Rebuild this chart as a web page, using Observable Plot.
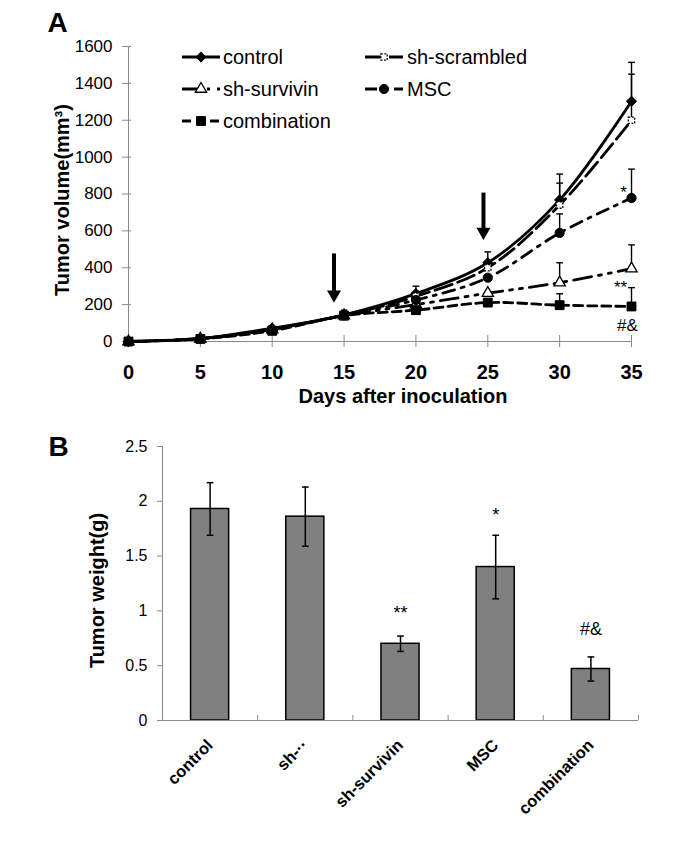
<!DOCTYPE html>
<html><head><meta charset="utf-8">
<script src="https://cdn.jsdelivr.net/npm/d3@7"></script>
<script src="https://cdn.jsdelivr.net/npm/@observablehq/plot@0.6"></script>
<style>
body{margin:0;background:#fff;}
#wrap{position:relative;width:685px;height:843px;overflow:hidden;font-family:"Liberation Sans",Arial,sans-serif;}
#wrap svg{position:absolute;left:0;overflow:visible;}
.bold-ticks g[aria-label="x-axis tick label"] text{font-weight:bold;}
</style></head><body><div id="wrap"></div>
<script>
// ---------- Panel A data ----------
const days = [0, 5, 10, 15, 20, 25, 30, 35];
const seriesNames = ["control", "sh-scrambled", "sh-survivin", "MSC", "combination"];
const volControl     = [0, 17, 72, 145, 260, 427, 768, 1303];
const volScrambled   = [0, 16, 68, 143, 245, 400, 740, 1200];
const volSurvivin    = [0, 15, 65, 140, 200, 262, 319, 395];
const volMSC         = [0, 16, 66, 142, 225, 346, 589, 778];
const volCombination = [0, 14, 58, 140, 170, 211, 197, 190];
const sdControl      = [null, null, null, 25, 40, 59, 140, 211];
const sdScrambled    = [null, null, null, null, null, null, 119, 250];
const sdSurvivin     = [null, null, null, null, null, null, 108, 129];
const sdMSC          = [null, null, null, null, null, null, 103, 157];
const sdCombination  = [null, null, null, null, null, null, 62, 102];
const volTicks = [0, 200, 400, 600, 800, 1000, 1200, 1400, 1600];
const arrowDays = [14.3, 24.7];
const arrowTop  = [475, 805];
const arrowTip  = [211, 551];
const volSigSeries = ["MSC", "sh-survivin", "combination"];
const volSigText   = ["*", "**", "#&"];

// ---------- Panel B data ----------
const groups = ["control", "sh-··", "sh-survivin", "MSC", "combination"];
const weights = [1.93, 1.86, 0.70, 1.40, 0.47];
const weightSD = [0.24, 0.27, 0.07, 0.29, 0.11];
const weightSig = ["", "", "**", "*", "#&"];
const weightTicks = [0, 0.5, 1, 1.5, 2, 2.5];

// ---------- styles ----------
const FONT = "Liberation Sans, Arial, sans-serif";
const AXIS = "#8a8a8a";
const styles = {
  "control":      {dash: null,               symbol: "diamond2", fill: "black", r: 4.6},
  "sh-scrambled": {dash: "18,6",             symbol: "square",   fill: "white", r: 3.6, symDash: "2,1.5"},
  "sh-survivin":  {dash: "18,7,3,7,3,7",     symbol: "triangle", fill: "white", r: 4.2},
  "MSC":          {dash: "12,7,3,7",         symbol: "circle",   fill: "black", r: 4.6},
  "combination":  {dash: "9,5",              symbol: "square",   fill: "black", r: 5}
};
const sigStyleA = {"*": {dx: -8, dy: 0}, "**": {dx: -11, dy: 24}, "#&": {dx: -4, dy: 25}};
const sigDyB = {"**": -17, "*": -14, "#&": -22};
const capSym = {draw(ctx, size) { const w = Math.sqrt(size); ctx.moveTo(-w / 2, 0); ctx.lineTo(w / 2, 0); }};

const vols = {"control": volControl, "sh-scrambled": volScrambled, "sh-survivin": volSurvivin, "MSC": volMSC, "combination": volCombination};
const sds  = {"control": sdControl, "sh-scrambled": sdScrambled, "sh-survivin": sdSurvivin, "MSC": sdMSC, "combination": sdCombination};
const rows = seriesNames.flatMap(s => days.map((d, i) => ({series: s, day: d, vol: vols[s][i], sd: sds[s][i]})));
const errRows = rows.filter(r => r.sd != null);
const arrows = arrowDays.map((d, i) => ({day: d, top: arrowTop[i], tip: arrowTip[i]}));

const wrap = document.getElementById("wrap");

// ---------- Panel A ----------
const marksA = [
  Plot.ruleX([0], {stroke: AXIS}),
  Plot.ruleY([0], {stroke: AXIS}),
  Plot.axisY({ticks: volTicks, tickSize: 9, dx: 3, stroke: AXIS, tickFormat: () => "", label: null}),
  Plot.axisY({ticks: volTicks, tickSize: 0, tickPadding: 16, fontSize: 17, tickFormat: d => String(d), label: null}),
  Plot.axisX({ticks: days, tickSize: 12, dy: -6, stroke: AXIS, tickFormat: () => "", label: null}),
  Plot.axisX({ticks: days, tickSize: 0, tickPadding: 23, fontSize: 20, fontWeight: "bold", tickFormat: d => String(d), label: null}),
  Plot.text(["Days after inoculation"], {frameAnchor: "bottom", dx: 23, dy: 55, fontSize: 20, fontWeight: "bold", textAnchor: "middle", lineAnchor: "middle"}),
  Plot.text(["Tumor volume(mm³)"], {frameAnchor: "left", rotate: -90, dx: -66, dy: 6, fontSize: 20, fontWeight: "bold", textAnchor: "middle", lineAnchor: "middle"}),
  Plot.text(["A"], {frameAnchor: "top-left", dx: -81, dy: -23, textAnchor: "start", lineAnchor: "middle", fontSize: 28, fontWeight: "bold"})
];
for (const s of seriesNames) {
  marksA.push(Plot.line(rows.filter(r => r.series === s), {
    x: "day", y: "vol", stroke: "black", strokeWidth: 2.8, curve: "catmull-rom",
    strokeDasharray: styles[s].dash || undefined
  }));
}
marksA.push(
  Plot.link(errRows, {x1: "day", x2: "day", y1: "vol", y2: d => d.vol + d.sd, stroke: "black", strokeWidth: 1.4}),
  Plot.dot(errRows, {x: "day", y: d => d.vol + d.sd, symbol: capSym, r: 3.8, fill: "none", stroke: "black", strokeWidth: 1.4})
);
for (const s of seriesNames) {
  const st = styles[s];
  marksA.push(Plot.dot(rows.filter(r => r.series === s), {
    x: "day", y: "vol", symbol: st.symbol, r: st.r, fill: st.fill, stroke: "black",
    strokeWidth: st.fill === "white" ? 1.3 : 1, strokeDasharray: st.symDash
  }));
}
marksA.push(
  Plot.ruleX(arrows, {x: "day", y1: "top", y2: "tip", insetBottom: 9, stroke: "black", strokeWidth: 4}),
  Plot.dot(arrows, {x: "day", y: "tip", symbol: "triangle", rotate: 180, r: 5.2, fill: "black", dy: -8})
);
volSigSeries.forEach((s, k) => {
  const r = rows.find(d => d.series === s && d.day === 35);
  const st = sigStyleA[volSigText[k]];
  marksA.push(Plot.text([r], {x: "day", y: "vol", text: () => volSigText[k], dx: st.dx, dy: st.dy, lineAnchor: "bottom", fontSize: 17}));
});

const plotA = Plot.plot({
  width: 685, height: 420,
  marginLeft: 128, marginRight: 54, marginTop: 46, marginBottom: 79,
  x: {domain: [0, 35], axis: null},
  y: {domain: [0, 1600], axis: null},
  style: {fontFamily: FONT, color: "black", background: "white", overflow: "visible"},
  marks: marksA
});
plotA.style.top = "0px";
wrap.appendChild(plotA);

// ---------- Legend for panel A ----------
const legendPos = {
  "control":      {x1: 182, x2: 220, tx: 223, y: 57},
  "sh-scrambled": {x1: 365, x2: 403, tx: 407, y: 57},
  "sh-survivin":  {x1: 182, x2: 220, tx: 223, y: 89},
  "MSC":          {x1: 365, x2: 403, tx: 407, y: 89},
  "combination":  {x1: 182, x2: 220, tx: 223, y: 121}
};
const symMap = {diamond2: d3.symbolDiamond2, square: d3.symbolSquare, triangle: d3.symbolTriangle, circle: d3.symbolCircle};
const leg = d3.select(wrap).append("svg").attr("width", 685).attr("height", 140).style("top", "0px")
  .attr("font-family", FONT);
for (const s of seriesNames) {
  const p = legendPos[s], st = styles[s];
  const g = leg.append("g");
  g.append("line").attr("x1", p.x1).attr("x2", p.x2).attr("y1", p.y).attr("y2", p.y)
    .attr("stroke", "black").attr("stroke-width", 2.8).attr("stroke-dasharray", st.dash);
  g.append("path").attr("transform", `translate(${(p.x1 + p.x2) / 2},${p.y})`)
    .attr("d", d3.symbol(symMap[st.symbol], Math.PI * st.r * st.r)())
    .attr("fill", st.fill).attr("stroke", "black").attr("stroke-width", st.fill === "white" ? 1.3 : 1)
    .attr("stroke-dasharray", st.symDash || null);
  g.append("text").attr("x", p.tx).attr("y", p.y).attr("dy", "0.35em").attr("font-size", 20).text(s);
}

// ---------- Panel B ----------
const wRows = groups.map((g, i) => ({i, g, w: weights[i], sd: weightSD[i], sig: weightSig[i]}));
const plotB = Plot.plot({
  width: 685, height: 423,
  marginLeft: 162, marginRight: 47, marginTop: 26, marginBottom: 123,
  x: {domain: [-0.5, 4.5], axis: null},
  y: {domain: [0, 2.5], axis: null},
  style: {fontFamily: FONT, color: "black", background: "transparent", overflow: "visible"},
  className: "bold-ticks",
  marks: [
    Plot.rectY(wRows, {x1: d => d.i - 0.2, x2: d => d.i + 0.2, y: "w", fill: "#808080", stroke: "black", strokeWidth: 1.5}),
    Plot.ruleY([0], {stroke: AXIS}),
    Plot.ruleX([-0.5], {stroke: AXIS}),
    Plot.axisY({ticks: weightTicks, tickSize: 5, tickPadding: 10, stroke: AXIS, fontSize: 16,
      tickFormat: d => String(d), label: null}),
    Plot.axisX({ticks: [-0.5, 0.5, 1.5, 2.5, 3.5, 4.5], tickSize: 5, dy: -5, stroke: AXIS, tickFormat: () => "", label: null}),
    Plot.axisX({ticks: [0, 1, 2, 3, 4], tickSize: 0, tickPadding: 22, tickRotate: -45, fontSize: 16.5, fontWeight: "bold",
      tickFormat: i => groups[i], label: null}),
    Plot.ruleX(wRows, {x: "i", y1: d => d.w - d.sd, y2: d => d.w + d.sd, stroke: "black", strokeWidth: 1.5}),
    Plot.dot(wRows, {x: "i", y: d => d.w + d.sd, symbol: capSym, r: 3.8, fill: "none", stroke: "black", strokeWidth: 1.5}),
    Plot.dot(wRows, {x: "i", y: d => d.w - d.sd, symbol: capSym, r: 3.8, fill: "none", stroke: "black", strokeWidth: 1.5}),
    ...["**", "*", "#&"].map(sg => Plot.text(wRows.filter(d => d.sig === sg), {x: "i", y: d => d.w + d.sd, text: "sig",
      dy: sigDyB[sg], lineAnchor: "bottom", fontSize: 18})),
    Plot.text(["Tumor weight(g)"], {frameAnchor: "left", rotate: -90, dx: -65, dy: 7, fontSize: 20, fontWeight: "bold", textAnchor: "middle", lineAnchor: "middle"}),
    Plot.text(["B"], {frameAnchor: "top-left", dx: -114, dy: 1, textAnchor: "start", lineAnchor: "middle", fontSize: 28, fontWeight: "bold"})
  ]
});
plotB.style.top = "420px";
wrap.appendChild(plotB);
</script></body></html>
